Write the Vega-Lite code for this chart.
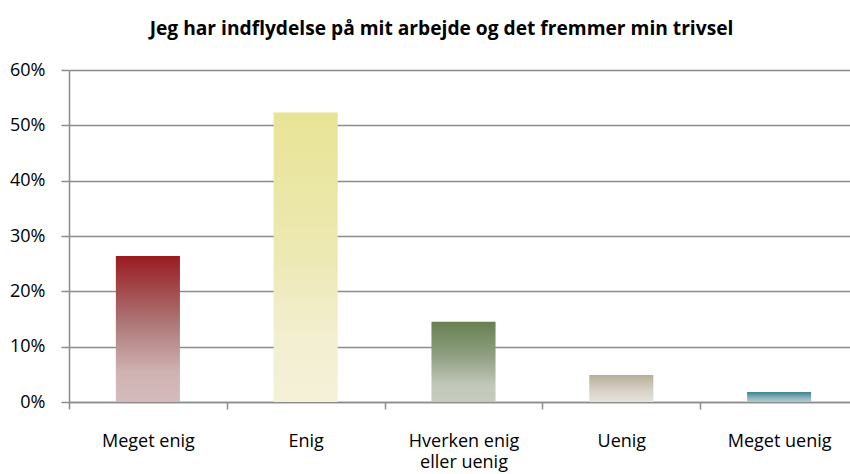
{
  "$schema": "https://vega.github.io/schema/vega-lite/v6.json",
  "width": 781,
  "height": 332,
  "autosize": {"type": "none"},
  "padding": {"left": 69, "top": 70, "right": 0, "bottom": 72},
  "background": "white",
  "title": {
    "text": "Jeg har indflydelse på mit arbejde og det fremmer min trivsel",
    "font": "Open Sans",
    "fontSize": 19.2,
    "fontWeight": "bold",
    "color": "#000000",
    "anchor": "middle",
    "dx": -18,
    "offset": 22
  },
  "data": {
    "values": [
      {"svar": "Meget enig", "andel": 0.264},
      {"svar": "Enig", "andel": 0.523},
      {"svar": "Hverken enig eller uenig", "andel": 0.145},
      {"svar": "Uenig", "andel": 0.049},
      {"svar": "Meget uenig", "andel": 0.018}
    ]
  },
  "encoding": {
    "x": {
      "field": "svar",
      "type": "nominal",
      "sort": ["Meget enig", "Enig", "Hverken enig eller uenig", "Uenig", "Meget uenig"],
      "scale": {"paddingInner": 0, "paddingOuter": 0, "range": [0, 789]},
      "axis": {
        "title": null,
        "labelAngle": 0,
        "labelFont": "Open Sans",
        "labelFontSize": 18,
        "labelColor": "#000000",
        "labelBaseline": "alphabetic",
        "labelPadding": 37,
        "labelLineHeight": 21,
        "labelExpr": "datum.label == 'Hverken enig eller uenig' ? ['Hverken enig', 'eller uenig'] : datum.label",
        "tickBand": "extent",
        "tickSize": 7,
        "tickColor": "#8c8c8c",
        "tickWidth": 1.5,
        "domainColor": "#8c8c8c",
        "domainWidth": 1.5,
        "grid": false
      }
    },
    "y": {
      "field": "andel",
      "type": "quantitative",
      "scale": {"domain": [0, 0.6], "nice": false},
      "axis": {
        "title": null,
        "format": ".0%",
        "values": [0, 0.1, 0.2, 0.3, 0.4, 0.5, 0.6],
        "labelFont": "Open Sans",
        "labelFontSize": 18,
        "labelColor": "#000000",
        "labelPadding": 16,
        "tickSize": 8,
        "tickColor": "#8c8c8c",
        "tickWidth": 1.5,
        "domainColor": "#8c8c8c",
        "domainWidth": 1.5,
        "grid": true,
        "gridColor": "#8c8c8c",
        "gridWidth": 1.5
      }
    }
  },
  "layer": [
    {
      "transform": [{"filter": "datum.svar == 'Meget enig'"}],
      "mark": {
        "type": "bar",
        "width": {"band": 0.406},
        "color": {
          "gradient": "linear", "x1": 0, "y1": 0, "x2": 0, "y2": 1,
          "stops": [
            {"offset": 0, "color": "#991b20"},
            {"offset": 0.45, "color": "#ac7575"},
            {"offset": 0.8, "color": "#d0b3b3"},
            {"offset": 1, "color": "#d4bbbb"}
          ]
        }
      }
    },
    {
      "transform": [{"filter": "datum.svar == 'Enig'"}],
      "mark": {
        "type": "bar",
        "width": {"band": 0.406},
        "color": {
          "gradient": "linear", "x1": 0, "y1": 0, "x2": 0, "y2": 1,
          "stops": [
            {"offset": 0, "color": "#e8e495"},
            {"offset": 0.5, "color": "#ede9b4"},
            {"offset": 0.8, "color": "#f3efd2"},
            {"offset": 1, "color": "#f5f1d8"}
          ]
        }
      }
    },
    {
      "transform": [{"filter": "datum.svar == 'Hverken enig eller uenig'"}],
      "mark": {
        "type": "bar",
        "width": {"band": 0.406},
        "color": {
          "gradient": "linear", "x1": 0, "y1": 0, "x2": 0, "y2": 1,
          "stops": [
            {"offset": 0, "color": "#667f4f"},
            {"offset": 0.45, "color": "#93a286"},
            {"offset": 0.8, "color": "#c2c9bb"},
            {"offset": 1, "color": "#c5cbbe"}
          ]
        }
      }
    },
    {
      "transform": [{"filter": "datum.svar == 'Uenig'"}],
      "mark": {
        "type": "bar",
        "width": {"band": 0.406},
        "color": {
          "gradient": "linear", "x1": 0, "y1": 0, "x2": 0, "y2": 1,
          "stops": [
            {"offset": 0, "color": "#b8ad98"},
            {"offset": 0.6, "color": "#d8d3c8"},
            {"offset": 1, "color": "#e6e3dc"}
          ]
        }
      }
    },
    {
      "transform": [{"filter": "datum.svar == 'Meget uenig'"}],
      "mark": {
        "type": "bar",
        "width": {"band": 0.406},
        "color": {
          "gradient": "linear", "x1": 0, "y1": 0, "x2": 0, "y2": 1,
          "stops": [
            {"offset": 0, "color": "#3f8393"},
            {"offset": 0.6, "color": "#8fb4bd"},
            {"offset": 1, "color": "#b3cbd1"}
          ]
        }
      }
    }
  ]
}
